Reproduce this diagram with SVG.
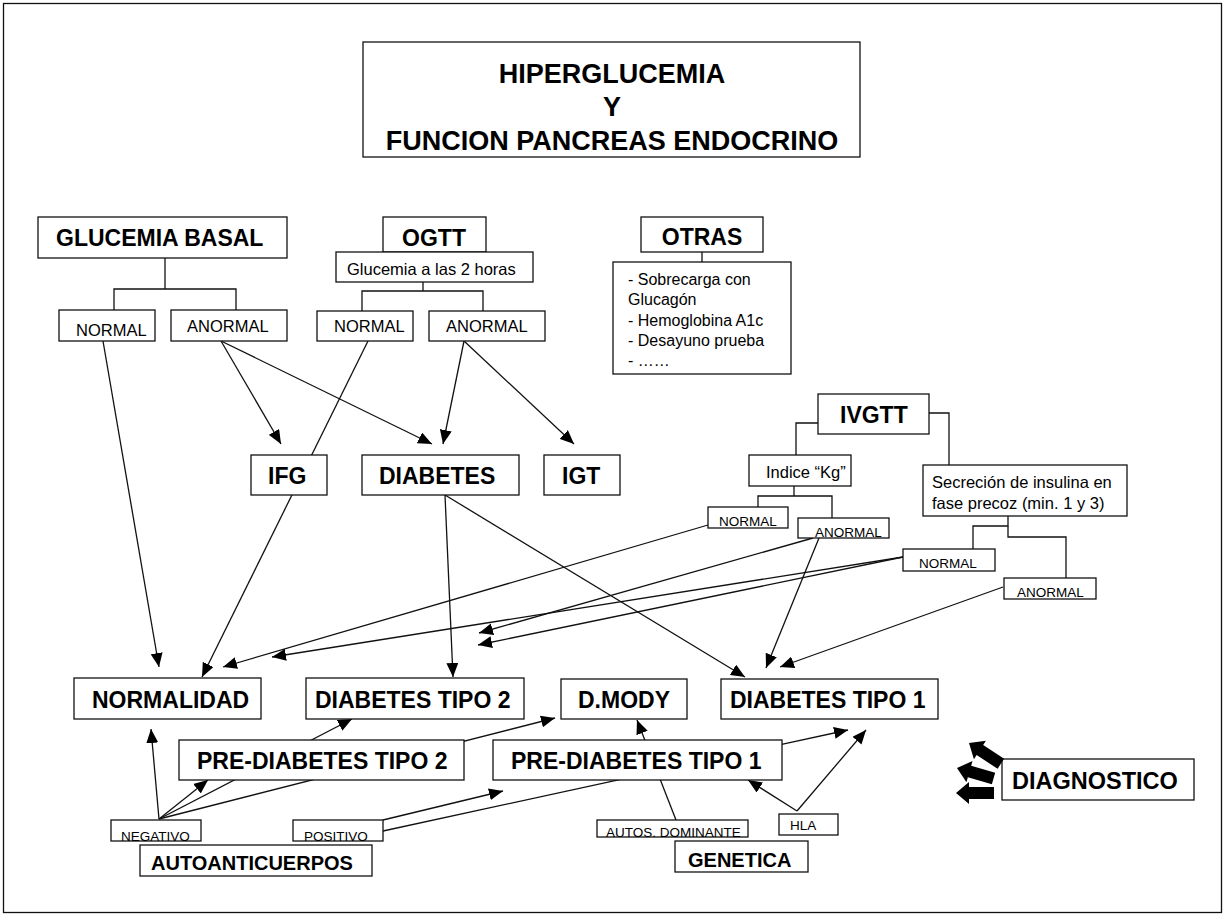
<svg xmlns="http://www.w3.org/2000/svg" width="1226" height="917" viewBox="0 0 1226 917">
<style>
.bx{fill:#fff;stroke:#111;stroke-width:1.3}
.ln{fill:none;stroke:#111;stroke-width:1.3}
.ar{fill:none;stroke:#111;stroke-width:1.3;marker-end:url(#ah)}
text{font-family:"Liberation Sans",Arial,sans-serif;fill:#000}
.b{font-weight:bold;font-size:23px}
.t{font-weight:bold;font-size:27px}
.m{font-size:16.5px}
.s{font-size:13.5px}
.g{font-weight:bold;font-size:20px}
</style>
<defs>
<marker id="ah" markerWidth="14" markerHeight="12" refX="14" refY="6" orient="auto" markerUnits="userSpaceOnUse"><path d="M0,0 L14,6 L0,12 z" fill="#000"/></marker>
<path id="blk" d="M0,0 L13,-11 L13,-6 L38,-6 L38,6 L13,6 L13,11 Z" fill="#000"/>
</defs>
<rect x="3.5" y="3.5" width="1218" height="909" fill="#fff" stroke="#111" stroke-width="1.3"/>
<g id="connectors">
<polyline class="ln" points="165,258 165,289"/>
<polyline class="ln" points="114,310 114,289 236,289 236,310"/>
<polyline class="ln" points="423,282 423,291"/>
<polyline class="ln" points="362,311 362,291 483,291 483,311"/>
<polyline class="ln" points="702,252 702,262"/>
<polyline class="ln" points="818,423 796,423 796,455"/>
<polyline class="ln" points="929,413 949,413 949,465"/>
<polyline class="ln" points="794,486 794,496"/>
<polyline class="ln" points="758,507 758,496 832,496 832,518"/>
<polyline class="ln" points="973,549 973,526 1008,526 1008,516"/>
<polyline class="ln" points="1008,526 1008,537 1066,537 1066,578"/>
<line class="ar" x1="103" y1="341" x2="159" y2="667"/>
<line class="ar" x1="221" y1="341" x2="281" y2="444"/>
<line class="ar" x1="221" y1="341" x2="432" y2="444"/>
<line class="ar" x1="368" y1="341" x2="202" y2="677"/>
<line class="ar" x1="464" y1="341" x2="443" y2="444"/>
<line class="ar" x1="464" y1="341" x2="574" y2="444"/>
<line class="ar" x1="445" y1="495" x2="453" y2="677"/>
<line class="ar" x1="445" y1="495" x2="745" y2="677"/>
<line class="ar" x1="708" y1="525" x2="223" y2="667"/>
<line class="ar" x1="813" y1="538" x2="479" y2="633"/>
<line class="ar" x1="819" y1="538" x2="766" y2="668"/>
<line class="ar" x1="903" y1="557" x2="272" y2="657"/>
<line class="ar" x1="903" y1="557" x2="478" y2="645"/>
<line class="ar" x1="1003" y1="587" x2="780" y2="667"/>
<line class="ar" x1="159" y1="819" x2="151" y2="729"/>
<line class="ar" x1="159" y1="819" x2="208" y2="780"/>
<line class="ar" x1="159" y1="819" x2="352" y2="719"/>
<line class="ar" x1="159" y1="819" x2="555" y2="718"/>
<line class="ar" x1="383" y1="820" x2="503" y2="791"/>
<line class="ar" x1="383" y1="831" x2="848" y2="730"/>
<line class="ar" x1="676" y1="820" x2="637" y2="720"/>
<line class="ar" x1="797" y1="811" x2="748" y2="780"/>
<line class="ar" x1="797" y1="811" x2="866" y2="730"/>
</g>
<g id="title"><rect class="bx" x="363" y="42" width="497" height="115"/>
<text class="t" x="612" y="83" text-anchor="middle">HIPERGLUCEMIA</text>
<text class="t" x="612" y="116" text-anchor="middle">Y</text>
<text class="t" x="612" y="150" text-anchor="middle">FUNCION PANCREAS ENDOCRINO</text></g>
<g id="glucemia-basal"><rect class="bx" x="38" y="217" width="249" height="41"/><text class="b" x="56" y="246">GLUCEMIA BASAL</text></g>
<g id="gb-normal"><rect class="bx" x="59" y="310" width="96" height="31"/><text class="m" x="76" y="336">NORMAL</text></g>
<g id="gb-anormal"><rect class="bx" x="171" y="310" width="116" height="31"/><text class="m" x="187" y="332">ANORMAL</text></g>
<g id="ogtt"><rect class="bx" x="383" y="217" width="103" height="35"/><text class="b" x="434" y="246" text-anchor="middle">OGTT</text></g>
<g id="glucemia-2h"><rect class="bx" x="336" y="252" width="197" height="30"/><text class="m" x="347" y="275">Glucemia a las 2 horas</text></g>
<g id="ogtt-normal"><rect class="bx" x="317" y="311" width="96" height="30"/><text class="m" x="334" y="332">NORMAL</text></g>
<g id="ogtt-anormal"><rect class="bx" x="429" y="311" width="116" height="30"/><text class="m" x="446" y="332">ANORMAL</text></g>
<g id="otras"><rect class="bx" x="641" y="217" width="122" height="35"/><text class="b" x="702" y="245" text-anchor="middle">OTRAS</text></g>
<g id="otras-list"><rect class="bx" x="613" y="262" width="178" height="112"/>
<text style="font-size:16px" x="628" y="285">- Sobrecarga con</text>
<text style="font-size:16px" x="628" y="305">Glucagón</text>
<text style="font-size:16px" x="628" y="326">- Hemoglobina A1c</text>
<text style="font-size:16px" x="628" y="346">- Desayuno prueba</text>
<text style="font-size:16px" x="628" y="366">- ……</text></g>
<g id="ifg"><rect class="bx" x="251" y="455" width="76" height="40"/><text class="b" x="268" y="484">IFG</text></g>
<g id="diabetes"><rect class="bx" x="362" y="455" width="157" height="40"/><text class="b" x="379" y="484">DIABETES</text></g>
<g id="igt"><rect class="bx" x="544" y="455" width="76" height="40"/><text class="b" x="562" y="484">IGT</text></g>
<g id="ivgtt"><rect class="bx" x="818" y="394" width="111" height="40"/><text class="b" x="840" y="423">IVGTT</text></g>
<g id="indice-kg"><rect class="bx" x="749" y="455" width="102" height="31"/><text class="m" x="766" y="478">Indice “Kg”</text></g>
<g id="kg-normal"><rect class="bx" x="708" y="507" width="80" height="21"/><text class="s" x="719" y="526">NORMAL</text></g>
<g id="kg-anormal"><rect class="bx" x="798" y="518" width="91" height="20"/><text class="s" x="815" y="537">ANORMAL</text></g>
<g id="secrecion"><rect class="bx" x="923" y="465" width="204" height="51"/><text class="m" x="932" y="488">Secreción de insulina en</text><text class="m" x="932" y="509">fase precoz (min. 1 y 3)</text></g>
<g id="sec-normal"><rect class="bx" x="903" y="549" width="92" height="22"/><text class="s" x="919" y="568">NORMAL</text></g>
<g id="sec-anormal"><rect class="bx" x="1004" y="578" width="92" height="21"/><text class="s" x="1017" y="597">ANORMAL</text></g>
<g id="normalidad"><rect class="bx" x="74" y="678" width="187" height="41"/><text class="b" x="92" y="708">NORMALIDAD</text></g>
<g id="diabetes-tipo2"><rect class="bx" x="306" y="678" width="218" height="41"/><text class="b" x="315" y="708">DIABETES TIPO 2</text></g>
<g id="dmody"><rect class="bx" x="561" y="679" width="126" height="40"/><text class="b" x="578" y="708">D.MODY</text></g>
<g id="diabetes-tipo1"><rect class="bx" x="721" y="679" width="217" height="40"/><text class="b" x="730" y="708">DIABETES TIPO 1</text></g>
<g id="pre-diabetes-tipo2"><rect class="bx" x="179" y="740" width="285" height="40"/><text class="b" x="197" y="769">PRE-DIABETES TIPO 2</text></g>
<g id="pre-diabetes-tipo1"><rect class="bx" x="493" y="740" width="289" height="40"/><text class="b" x="511" y="769">PRE-DIABETES TIPO 1</text></g>
<g id="negativo"><rect class="bx" x="111" y="820" width="90" height="21"/><text class="s" x="121" y="841">NEGATIVO</text></g>
<g id="positivo"><rect class="bx" x="293" y="820" width="90" height="21"/><text class="s" x="304" y="841">POSITIVO</text></g>
<g id="autoanticuerpos"><rect class="bx" x="140" y="845" width="232" height="31"/><text class="g" x="151" y="870">AUTOANTICUERPOS</text></g>
<g id="autos-dominante"><rect class="bx" x="597" y="820" width="151" height="17"/><text class="s" x="606" y="837">AUTOS. DOMINANTE</text></g>
<g id="hla"><rect class="bx" x="779" y="814" width="59" height="21"/><text class="s" x="790" y="830">HLA</text></g>
<g id="genetica"><rect class="bx" x="675" y="841" width="133" height="31"/><text class="g" x="688" y="867">GENETICA</text></g>
<g id="diagnostico"><rect class="bx" x="1002" y="759" width="192" height="41"/><text class="b" style="font-size:23.5px" x="1012" y="789">DIAGNOSTICO</text></g>
<g id="block-arrows">
<use href="#blk" transform="translate(969,743) rotate(33)"/>
<use href="#blk" transform="translate(957,768) rotate(16)"/>
<use href="#blk" transform="translate(956,793)"/>
</g>
</svg>
